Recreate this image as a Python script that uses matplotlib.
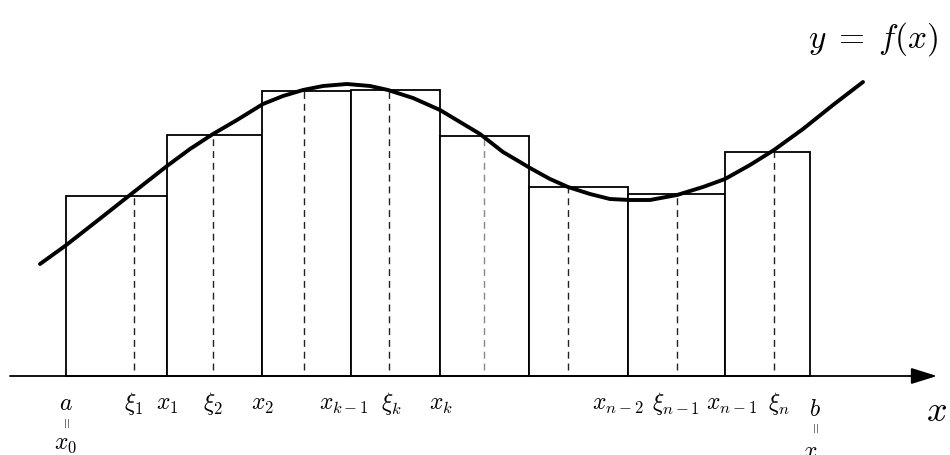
import matplotlib
matplotlib.use("Agg")
import matplotlib.pyplot as plt

plt.rcParams['mathtext.fontset'] = 'cm'

# Partition edges (x) and rectangle heights (above axis)
edges = [66, 167, 262, 351, 440, 529, 628, 725, 810]
heights = [180, 241, 285, 286, 240, 189, 182, 224]
# Sample points xi_k (dashed lines)
xi = [134, 213, 304, 389, 484, 568, 677, 774]
xi_colors = ['#222222', '#222222', '#222222', '#222222', '#888888', '#222222', '#222222', '#222222']

# Curve y = f(x)
curve_x = [40, 65, 97, 130, 167, 190, 213, 237, 263, 283, 303, 323, 347, 370, 388,
           413, 440, 460, 480, 503, 520, 530, 550, 568, 590, 610, 630, 650, 677,
           703, 725, 750, 774, 803, 833, 863]
curve_y = [112, 130, 155, 181, 210, 227, 242, 256, 272, 280, 286, 290, 292, 290, 286,
           278, 266, 254, 242, 224, 214, 208, 197, 189, 182, 177, 176, 176, 181,
           189, 197, 211, 226, 247, 271, 294]

# Tick labels
label_x = [66, 134, 167, 213, 262, 344, 391, 441, 618, 676, 731, 779]
label_txt = [r'$a$', r'$\xi_1$', r'$x_1$', r'$\xi_2$', r'$x_2$', r'$x_{k-1}$', r'$\xi_k$',
             r'$x_k$', r'$x_{n-2}$', r'$\xi_{n-1}$', r'$x_{n-1}$', r'$\xi_n$']

fig = plt.figure(figsize=(9.5, 4.56), dpi=100)
ax = fig.add_axes([0, 0, 1, 1])
ax.set_xlim(0, 950)
ax.set_ylim(-79, 377)
ax.axis('off')

widths = [edges[i + 1] - edges[i] for i in range(len(heights))]
ax.bar(edges[:-1], heights, width=widths, align='edge', bottom=0,
       facecolor='white', edgecolor='black', linewidth=1.3, zorder=2)

for i, (x, c) in enumerate(zip(xi, xi_colors)):
    ax.plot([x, x], [6, heights[i]], color=c, linewidth=1.0,
            dashes=(5, 3.5), zorder=3)

ax.plot(curve_x, curve_y, color='black', linewidth=2.8, solid_capstyle='round',
        solid_joinstyle='round', zorder=4)

# x axis with arrow
ax.annotate('', xy=(937, 0), xytext=(10, 0),
            arrowprops=dict(arrowstyle='-|>,head_length=1.6,head_width=0.5',
                            color='black', linewidth=1.3, shrinkA=0, shrinkB=0),
            zorder=5)

for x, t in zip(label_x, label_txt):
    ax.text(x, -33, t, ha='center', va='baseline', fontsize=17)

# a = x_0
ax.text(66, -47, r'$=$', ha='center', va='center', fontsize=10, rotation=90)
ax.text(66, -72, r'$x_0$', ha='center', va='baseline', fontsize=17)
# b = x_n (partly cut at the bottom edge, as in the reference)
ax.text(815, -39, r'$b$', ha='center', va='baseline', fontsize=17)
ax.text(815, -52, r'$=$', ha='center', va='center', fontsize=10, rotation=90)
ax.text(815, -82, r'$x_n$', ha='center', va='baseline', fontsize=17)

ax.text(936, -44, r'$x$', ha='center', va='baseline', fontsize=26)
ax.text(873, 338, r'$y\;=\;f(x)$', ha='center', va='center', fontsize=24)

fig.savefig('out.png', dpi=100)
